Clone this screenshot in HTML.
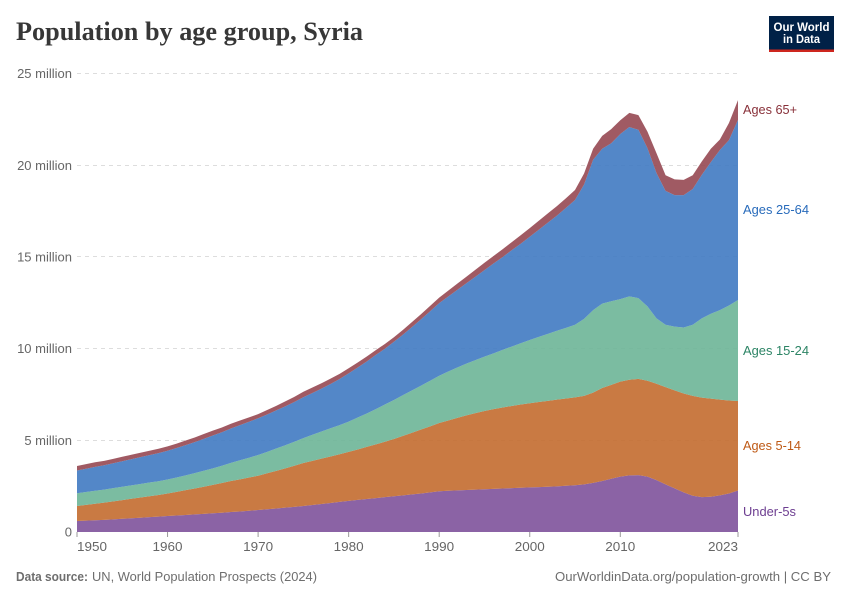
<!DOCTYPE html>
<html lang="en">
<head>
<meta charset="utf-8">
<title>Population by age group, Syria</title>
<style>
html,body{margin:0;padding:0;background:#fff;}
svg{display:block;font-family:"Liberation Sans",sans-serif;}
</style>
</head>
<body>
<svg id="chart" width="850" height="600" viewBox="0 0 850 600" xmlns="http://www.w3.org/2000/svg">
<rect width="850" height="600" fill="#fff"/>
<text x="16" y="40" font-family="'Liberation Serif',serif" font-weight="700" font-size="26" fill="#373737" textLength="347" lengthAdjust="spacingAndGlyphs">Population by age group, Syria</text>
<g>
<rect x="769" y="16" width="65" height="36" fill="#002147"/>
<rect x="769" y="49.5" width="65" height="2.5" fill="#ce261e"/>
<text x="801.5" y="31" text-anchor="middle" font-size="11.5" font-weight="700" fill="#fff" textLength="56" lengthAdjust="spacingAndGlyphs">Our World</text>
<text x="801.5" y="43" text-anchor="middle" font-size="11.5" font-weight="700" fill="#fff" textLength="37" lengthAdjust="spacingAndGlyphs">in Data</text>
</g>
<g id="grid"></g>
<g id="areas"></g>
<g id="xaxis"></g>
<g id="yaxis"></g>
<g id="labels"></g>
<text x="16" y="581" font-size="12.5" font-weight="700" fill="#6e6e6e" textLength="72" lengthAdjust="spacingAndGlyphs">Data source:</text>
<text x="92" y="581" font-size="12.5" fill="#6e6e6e" textLength="225" lengthAdjust="spacingAndGlyphs">UN, World Population Prospects (2024)</text>
<text x="831" y="581" text-anchor="end" font-size="12.5" fill="#6e6e6e" textLength="276" lengthAdjust="spacingAndGlyphs">OurWorldinData.org/population-growth | CC BY</text>
</svg>
<script>
const startYear = 1950;
const endYear = 2023;
const xTickYears = [1950, 1960, 1970, 1980, 1990, 2000, 2010, 2023];
const yTickValues = [0, 5, 10, 15, 20, 25];
const yTickLabels = ["0", "5 million", "10 million", "15 million", "20 million", "25 million"];
const seriesNames = ["Under-5s", "Ages 5-14", "Ages 15-24", "Ages 25-64", "Ages 65+"];
const under5 = [
.60,.62,.64,.66,.69,.72,.75,.78,.81,.84,
.87,.90,.93,.96,.99,1.02,1.05,1.09,1.12,1.16,
1.20,1.24,1.28,1.33,1.37,1.42,1.47,1.53,1.58,1.64,
1.70,1.75,1.80,1.85,1.90,1.95,2.00,2.05,2.10,2.16,
2.22,2.25,2.27,2.29,2.31,2.33,2.35,2.37,2.39,2.41,
2.43,2.45,2.47,2.49,2.52,2.55,2.60,2.68,2.78,2.90,
3.02,3.09,3.10,3.02,2.83,2.60,2.38,2.16,1.98,1.90,
1.92,2.00,2.10,2.26];
const ages5to14 = [
.82,.86,.90,.94,.98,1.02,1.06,1.10,1.14,1.18,
1.23,1.29,1.35,1.41,1.48,1.55,1.62,1.69,1.75,1.81,
1.87,1.96,2.05,2.14,2.24,2.34,2.41,2.47,2.54,2.60,
2.67,2.75,2.84,2.93,3.02,3.12,3.24,3.36,3.49,3.60,
3.72,3.83,3.95,4.07,4.17,4.27,4.35,4.42,4.48,4.54,
4.59,4.64,4.68,4.73,4.76,4.79,4.82,4.92,5.07,5.12,
5.18,5.21,5.25,5.23,5.25,5.30,5.34,5.39,5.44,5.43,
5.35,5.22,5.07,4.88];
const ages15to24 = [
.69,.70,.71,.71,.72,.73,.73,.74,.75,.75,
.76,.78,.81,.84,.87,.90,.94,.99,1.04,1.08,
1.13,1.17,1.22,1.26,1.31,1.36,1.42,1.48,1.54,1.59,
1.65,1.74,1.82,1.92,2.03,2.13,2.22,2.31,2.39,2.49,
2.58,2.67,2.75,2.82,2.89,2.96,3.04,3.14,3.24,3.34,
3.45,3.55,3.65,3.75,3.85,3.96,4.20,4.50,4.60,4.56,
4.50,4.55,4.40,4.05,3.57,3.40,3.48,3.60,3.88,4.32,
4.63,4.88,5.18,5.51];
const ages25to64 = [
1.24,1.27,1.30,1.33,1.36,1.39,1.43,1.46,1.49,1.53,
1.57,1.61,1.65,1.69,1.74,1.79,1.83,1.87,1.92,1.96,
2.00,2.04,2.08,2.12,2.17,2.23,2.28,2.34,2.41,2.51,
2.63,2.73,2.84,2.96,3.04,3.17,3.30,3.46,3.62,3.79,
3.96,4.09,4.23,4.38,4.55,4.72,4.90,5.06,5.25,5.43,
5.63,5.84,6.07,6.28,6.54,6.80,7.33,8.20,8.45,8.62,
9.00,9.23,9.18,8.63,7.92,7.30,7.17,7.22,7.40,7.82,
8.27,8.73,9.02,9.82];
const ages65plus = [
.25,.25,.25,.24,.24,.24,.24,.24,.24,.24,
.24,.24,.25,.25,.26,.27,.26,.26,.25,.24,
.23,.24,.25,.27,.28,.30,.30,.29,.29,.28,
.28,.27,.27,.26,.26,.25,.26,.27,.28,.29,
.30,.32,.34,.36,.38,.40,.41,.43,.44,.46,
.47,.49,.50,.52,.53,.55,.60,.60,.70,.77,
.75,.77,.80,.90,1.08,.85,.86,.83,.75,.73,
.73,.57,.93,1.08];

const SVG_NS = "http://www.w3.org/2000/svg";
const plotLeft = 77, plotRight = 738, plotBottom = 532, plotTop = 73.5;
const yMax = 25;
function xScale(year) { return plotLeft + (year - startYear) * (plotRight - plotLeft) / (endYear - startYear); }
function yScale(v) { return plotBottom - v * (plotBottom - plotTop) / yMax; }
function make(tag, attrs, parent, text) {
  const el = document.createElementNS(SVG_NS, tag);
  for (const k in attrs) el.setAttribute(k, attrs[k]);
  if (text !== undefined) el.textContent = text;
  parent.appendChild(el);
  return el;
}

const gridGroup = document.getElementById("grid");
const yAxisGroup = document.getElementById("yaxis");
yTickValues.forEach(function (v, i) {
  if (v !== 0) {
    const gy = Math.floor(yScale(v)) + 0.5;
    const line = make("line", {x1: plotLeft, x2: plotRight, y1: gy, y2: gy, stroke: "#dddddd", "stroke-dasharray": "4 4"}, gridGroup);
    
    
  }
  const label = make("text", {x: 72, y: yScale(v) + 4.6, "text-anchor": "end", "font-size": 13, fill: "#666"}, yAxisGroup, yTickLabels[i]);
  
  
});

const allSeries = [under5, ages5to14, ages15to24, ages25to64, ages65plus];
const fillColors = ["#7e529b", "#c36b2f", "#6db597", "#407ac2", "#964852"];
const labelColors = ["#6d3e91", "#be5915", "#2c8465", "#286bbb", "#883039"];
const labelY = [516, 450, 355, 214, 114];
const labelWidth = [53, 58, 66, 66, 54];
const areasGroup = document.getElementById("areas");
const labelsGroup = document.getElementById("labels");
let baseline = under5.map(function () { return 0; });
allSeries.forEach(function (values, s) {
  const tops = values.map(function (v, i) { return baseline[i] + v; });
  const upper = tops.map(function (t, i) { return xScale(startYear + i).toFixed(2) + "," + yScale(t).toFixed(2); });
  const lower = baseline.map(function (b, i) { return xScale(startYear + i).toFixed(2) + "," + yScale(b).toFixed(2); }).reverse();
  const area = make("polygon", {points: upper.concat(lower).join(" "), fill: fillColors[s], "fill-opacity": 0.9}, areasGroup);
  
  
  const label = make("text", {x: 743, y: labelY[s], "font-size": 13, fill: labelColors[s], textLength: labelWidth[s], lengthAdjust: "spacingAndGlyphs"}, labelsGroup, seriesNames[s]);
  
  
  baseline = tops;
});

const xAxisGroup = document.getElementById("xaxis");
xTickYears.forEach(function (year, i) {
  const tick = make("line", {x1: xScale(year), x2: xScale(year), y1: plotBottom, y2: plotBottom + 5, stroke: "#999"}, xAxisGroup);
  
  
  const anchor = i === 0 ? "start" : (i === xTickYears.length - 1 ? "end" : "middle");
  const label = make("text", {x: xScale(year), y: 551, "text-anchor": anchor, "font-size": 13, fill: "#666", textLength: 30, lengthAdjust: "spacingAndGlyphs"}, xAxisGroup, String(year));
  
  
});
</script>
</body>
</html>
